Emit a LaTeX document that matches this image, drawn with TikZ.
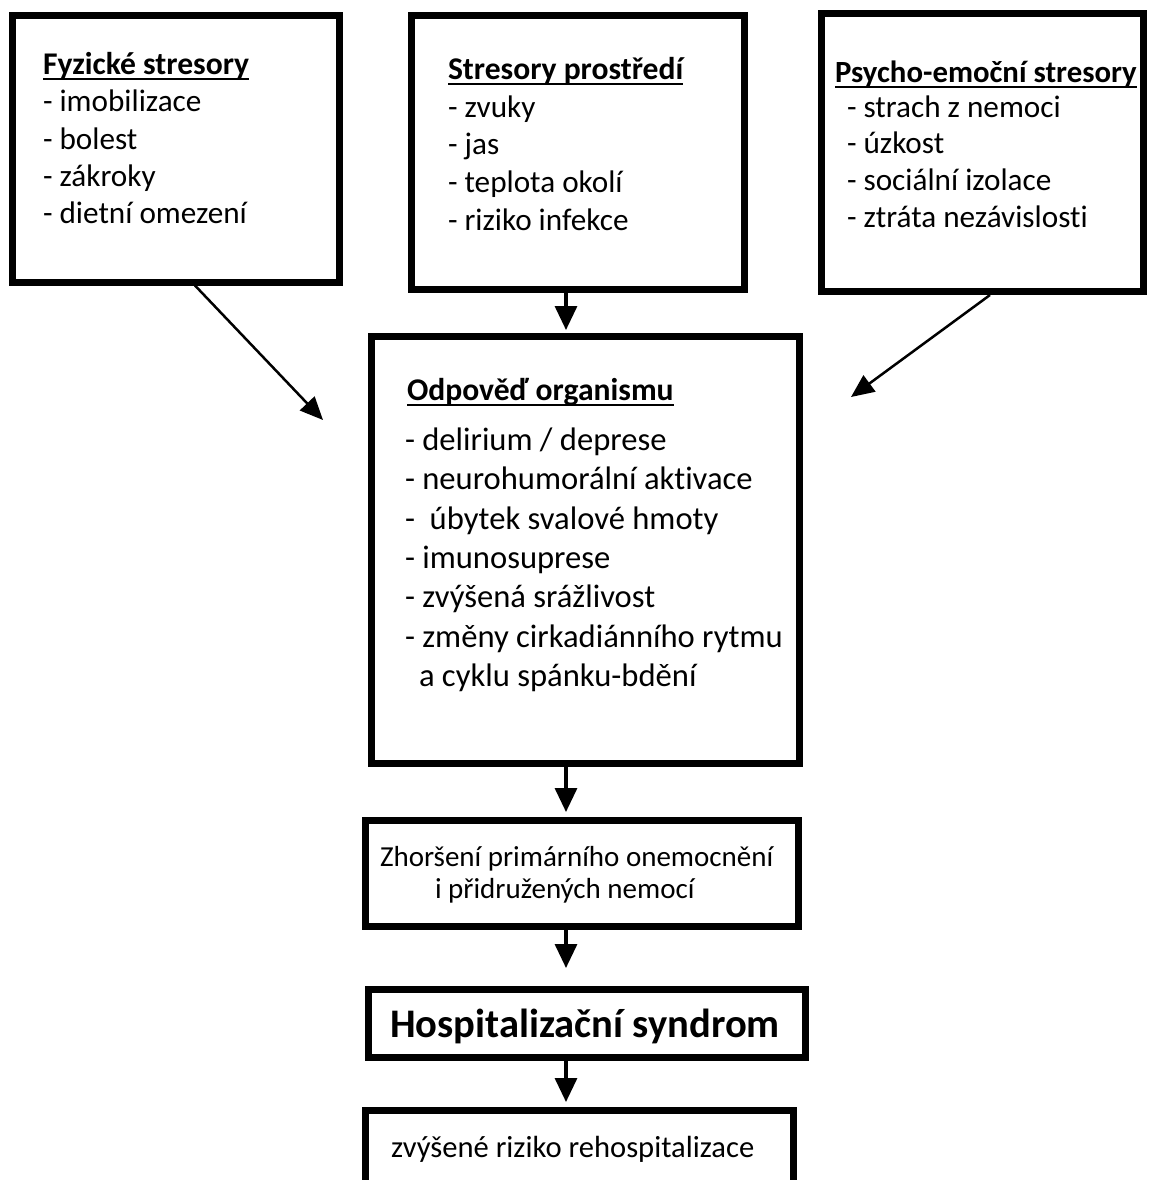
\documentclass[tikz,border=0pt]{standalone}
\usepackage{fontspec}
\setmainfont{Carlito}[Ligatures=NoCommon]
\usetikzlibrary{arrows.meta}
\newcommand\ulbox[1]{\setbox0=\hbox{#1}\rlap{\rule[-3pt]{\wd0}{1.2pt}}\box0}
\tikzset{
  box/.style={draw=black, line width=3.5pt, inner sep=0pt, fill=none},
  txt/.style={anchor=base west, inner sep=0pt, outer sep=0pt},
  fbox/.style={font=\fontsize{15.6}{18}\selectfont},
  fcen/.style={font=\fontsize{16.3}{19}\selectfont},
  ftit/.style={font=\fontsize{15.8}{18}\selectfont\bfseries},
  arr/.style={line width=1.65pt, -{Triangle[width=11pt,length=12pt]}},
  darr/.style={line width=1.25pt, -{Triangle[width=10pt,length=11.5pt]}}
}
\begin{document}
\begin{tikzpicture}[x=0.5pt,y=-0.5pt]
\useasboundingbox[fill=white] (0,0) rectangle (1152,1180);
% boxes
\node[box, minimum width=163.5pt, minimum height=133.5pt] (b1) at (175.5,148.5) {};
\node[box, minimum width=166.5pt, minimum height=137pt] (b2) at (577.5,152) {};
\node[box, minimum width=161pt, minimum height=139pt] (b3) at (982.5,152.5) {};
\node[box, minimum width=214pt, minimum height=213.5pt] (c) at (585.5,550) {};
\node[box, minimum width=216.75pt, minimum height=52.75pt] (zh) at (581.75,873.25) {};
\node[box, minimum width=218.25pt, minimum height=34pt] (hs) at (586.75,1023.5) {};
\node[box, minimum width=214.25pt, minimum height=60pt] (rr) at (579.25,1170) {};
% texts box 1
\node[txt, ftit] (b1t) at (43,74) {\ulbox{Fyzické stresory}};
\node[txt, fbox] (b1a) at (43,111.5) {- imobilizace};
\node[txt, fbox] (b1b) at (43,149) {- bolest};
\node[txt, fbox] (b1c) at (43,186) {- zákroky};
\node[txt, fbox] (b1d) at (43,223) {- dietní omezení};
% texts box 2
\node[txt, ftit] (b2t) at (448,79) {\ulbox{Stresory prostředí}};
\node[txt, fbox] (b2a) at (448,117) {- zvuky};
\node[txt, fbox] (b2b) at (448,154.5) {- jas};
\node[txt, fbox] (b2c) at (448,192) {- teplota okolí};
\node[txt, fbox] (b2d) at (448,230) {- riziko infekce};
% texts box 3
\node[txt, ftit, font=\fontsize{15.4}{18}\selectfont\bfseries] (b3t) at (835,82) {\ulbox{Psycho-emoční stresory}};
\node[txt, fbox] (b3a) at (847,117) {- strach z nemoci};
\node[txt, fbox] (b3b) at (847,153.5) {- úzkost};
\node[txt, fbox] (b3c) at (847,190) {- sociální izolace};
\node[txt, fbox] (b3d) at (847,227) {- ztráta nezávislosti};
% centre box
\node[txt, ftit] (ct) at (407,400) {\ulbox{Odpověď organismu}};
\node[txt, fcen] (c1) at (405,450) {- delirium / deprese};
\node[txt, fcen] (c2) at (405,489) {- neurohumorální aktivace};
\node[txt, fcen] (c3) at (405,529) {-\ \ úbytek svalové hmoty};
\node[txt, fcen] (c4) at (405,568) {- imunosuprese};
\node[txt, fcen] (c5) at (405,607) {- zvýšená srážlivost};
\node[txt, fcen] (c6) at (405,647) {- změny cirkadiánního rytmu};
\node[txt, fcen] (c7) at (419,686) {a cyklu spánku-bdění};
% lower boxes
\node[txt, font=\fontsize{14.5}{17}\selectfont] (z1) at (380,866) {Zhoršení primárního onemocnění};
\node[txt, font=\fontsize{14.5}{17}\selectfont] (z2) at (435,898) {i přidružených nemocí};
\node[txt, font=\fontsize{20.3}{24}\selectfont\bfseries] (h1) at (390,1037) {Hospitalizační syndrom};
\node[txt, font=\fontsize{15.3}{18}\selectfont] (r1) at (391,1157) {zvýšené riziko rehospitalizace};
% connector helpers
\coordinate (ax) at (566,0);
\coordinate (d1x) at (195,0);
\coordinate (d2x) at (990,0);
\coordinate (t1) at (323,420);
\coordinate (t2) at (851,397);
% connectors
\draw[arr, shorten >=1.5pt] (b2.south -| ax) -- (c.north -| ax);
\draw[arr, shorten >=2.5pt] (c.south -| ax) -- (zh.north -| ax);
\draw[arr, shorten >=9pt] (zh.south -| ax) -- (hs.north -| ax);
\draw[arr, shorten >=2.25pt] (hs.south -| ax) -- (rr.north -| ax);
\draw[darr] (b1.south -| d1x) -- (t1);
\draw[darr] (b3.south -| d2x) -- (t2);
\end{tikzpicture}
\end{document}
